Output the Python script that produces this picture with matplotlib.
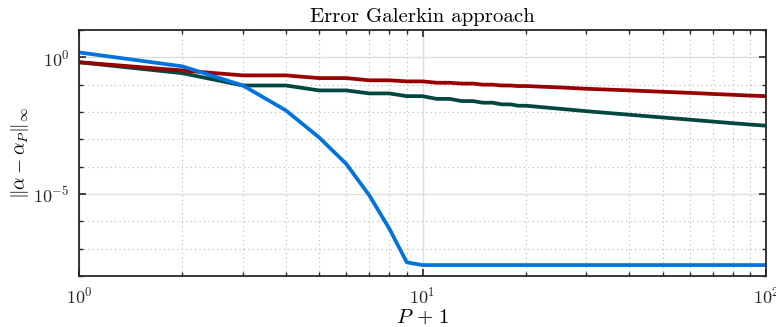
import numpy as np
import matplotlib
matplotlib.use("Agg")
import matplotlib.pyplot as plt
from matplotlib.ticker import LogLocator, NullFormatter, FixedLocator

plt.rcParams['font.family'] = ['cmr10', 'DejaVu Serif']
plt.rcParams['mathtext.fontset'] = 'cm'
plt.rcParams['axes.formatter.use_mathtext'] = True

# P+1 values and log10 of the error
x_blue = [1, 2, 3, 4, 5, 6, 7, 8, 9, 10, 100]
logy_blue = [0.18, -0.33, -1.03, -1.94, -2.93, -3.9, -5.05, -6.26, -7.5, -7.6, -7.6]

x_red = [1, 2, 3, 4, 5, 6, 7, 8, 9, 10, 11, 12, 13, 14, 15, 16, 17, 18, 19, 20,
         25, 30, 40, 50, 60, 70, 80, 90, 100]
logy_red = [-0.18, -0.48, -0.66, -0.66, -0.76, -0.76, -0.84, -0.84, -0.88, -0.88,
            -0.93, -0.93, -0.96, -0.96, -1.0, -1.0, -1.03, -1.03, -1.05, -1.05,
            -1.1, -1.15, -1.21, -1.26, -1.3, -1.34, -1.37, -1.4, -1.42]

x_teal = x_red
logy_teal = [-0.18, -0.58, -1.03, -1.03, -1.21, -1.21, -1.32, -1.32, -1.42, -1.42,
             -1.52, -1.52, -1.6, -1.6, -1.66, -1.66, -1.72, -1.72, -1.77, -1.77,
             -1.88, -1.97, -2.1, -2.2, -2.28, -2.35, -2.41, -2.46, -2.5]

fig = plt.figure(figsize=(7.76, 3.27), dpi=100)
ax = fig.add_axes([79 / 776, 1 - 276 / 327, (766 - 79) / 776, (276 - 30) / 327])

ax.plot(x_teal, 10.0 ** np.array(logy_teal), color=(0.0, 0.28, 0.26), lw=2.7)
ax.plot(x_red, 10.0 ** np.array(logy_red), color=(0.6, 0.0, 0.0), lw=2.7)
ax.plot(x_blue, 10.0 ** np.array(logy_blue), color=(0.0, 0.45, 0.87), lw=2.7)

ax.set_xscale('log')
ax.set_yscale('log')
ax.set_xlim(1, 100)
ax.set_ylim(1e-8, 1e1)

ax.yaxis.set_major_locator(FixedLocator([1e-5, 1e0]))
ax.yaxis.set_minor_locator(FixedLocator([10.0 ** k for k in range(-8, 2) if k not in (0, -5)]))
ax.yaxis.set_minor_formatter(NullFormatter())
ax.xaxis.set_major_locator(LogLocator(base=10))
ax.xaxis.set_minor_locator(LogLocator(base=10, subs=np.arange(2, 10)))
ax.xaxis.set_minor_formatter(NullFormatter())

ax.grid(True, which='major', color='0.87', lw=1.0, ls='-')
ax.grid(True, which='minor', color='0.72', lw=0.8, ls=(0, (1, 3)))
ax.set_axisbelow(True)

for s in ax.spines.values():
    s.set_color('0.15')
    s.set_linewidth(1.3)
ax.tick_params(which='both', direction='in', top=True, right=True, color='0.15',
               labelsize=13, labelcolor='0.15', pad=7)
ax.tick_params(which='major', length=5, width=1.2)
ax.tick_params(which='minor', length=3, width=1.0)

ax.set_title('Error Galerkin approach', fontsize=15, pad=6)
ax.set_xlabel(r'$P\,+\,1$', fontsize=15, labelpad=1)
ax.set_ylabel(r'$\|\alpha-\alpha_P\|_\infty$', fontsize=14, labelpad=1)

fig.savefig('out.png', dpi=100)
